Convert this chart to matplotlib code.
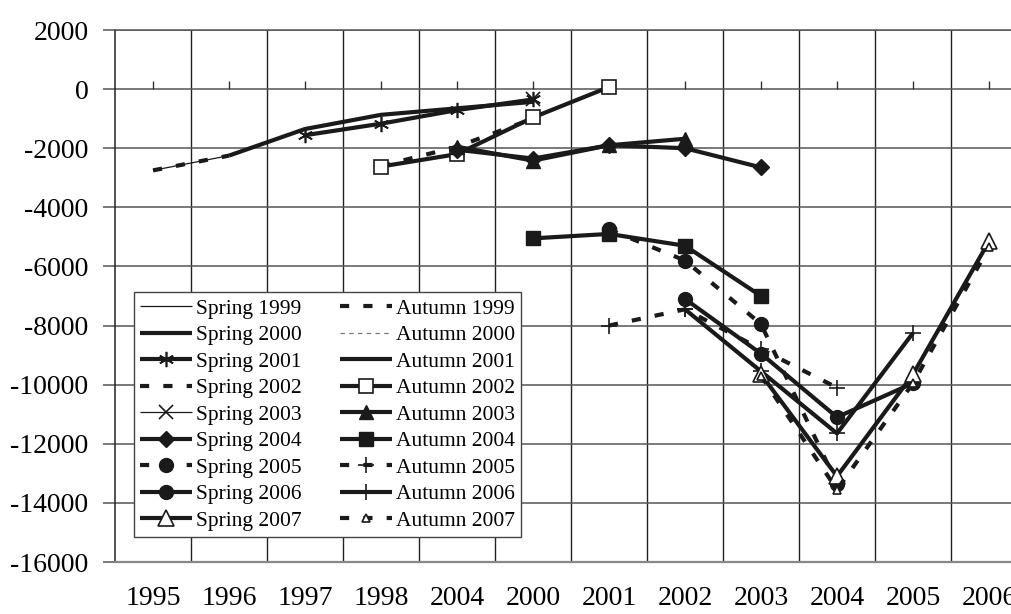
import numpy as np
import matplotlib
matplotlib.use("Agg")
import matplotlib.pyplot as plt

plt.rcParams['font.family'] = ['Liberation Serif', 'DejaVu Serif']

nan = np.nan

# category axis (the fifth label really reads 2004 in the original)
years = ['1995', '1996', '1997', '1998', '2004', '2000',
         '2001', '2002', '2003', '2004', '2005', '2006']

# forecast vintages, values
spring_1999 = [-2750, -2250, nan, nan, nan, nan, nan, nan, nan, nan, nan, nan]
autumn_1999 = [-2750, -2250, nan, nan, nan, nan, nan, nan, nan, nan, nan, nan]
spring_2000 = [nan, -2250, -1350, -870, -650, -430, nan, nan, nan, nan, nan, nan]
autumn_2000 = [nan, nan, nan, nan, nan, nan, nan, nan, nan, nan, nan, nan]
spring_2001 = [nan, nan, -1560, -1170, -710, -350, nan, nan, nan, nan, nan, nan]
autumn_2001 = [nan, nan, nan, nan, nan, nan, nan, nan, nan, nan, nan, nan]
spring_2002 = [nan, nan, nan, -2600, -1950, -1000, nan, nan, nan, nan, nan, nan]
autumn_2002 = [nan, nan, nan, -2620, -2200, -960, 70, nan, nan, nan, nan, nan]
spring_2003 = [nan, nan, nan, nan, nan, -350, nan, nan, nan, nan, nan, nan]
autumn_2003 = [nan, nan, nan, nan, -1950, -2420, -1900, -1680, nan, nan, nan, nan]
spring_2004 = [nan, nan, nan, nan, -2050, -2350, -1900, -2000, -2650, nan, nan, nan]
autumn_2004 = [nan, nan, nan, nan, nan, -5050, -4900, -5300, -7000, nan, nan, nan]
spring_2005 = [nan, nan, nan, nan, nan, nan, -4750, -5800, -7950, -13350, nan, nan]
autumn_2005 = [nan, nan, nan, nan, nan, nan, -8000, -7450, -8800, -10100, nan, nan]
spring_2006 = [nan, nan, nan, nan, nan, nan, nan, -7100, -8950, -11100, -9950, nan]
autumn_2006 = [nan, nan, nan, nan, nan, nan, nan, -7450, -9550, -11650, -8250, nan]
spring_2007 = [nan, nan, nan, nan, nan, nan, nan, nan, -9650, -13100, -9650, -5150]
autumn_2007 = [nan, nan, nan, nan, nan, nan, nan, nan, -9700, -13550, -9950, -5350]

ink = '#1a1a1a'
thick = 3.0
thin = 0.9
dash = (0, (2.2, 3.4))
asterisk = (6, 2, 0)

# label, values, colour, linewidth, linestyle, marker, markersize, markerfacecolor
series = [
    ('Spring 1999', spring_1999, ink, thin, '-', None, 0, ink),
    ('Autumn 1999', autumn_1999, ink, thick, dash, None, 0, ink),
    ('Spring 2000', spring_2000, ink, thick, '-', None, 0, ink),
    ('Autumn 2000', autumn_2000, '#777777', thin, (0, (3.5, 3.5)), None, 0, ink),
    ('Spring 2001', spring_2001, ink, thick, '-', asterisk, 11, ink),
    ('Autumn 2001', autumn_2001, ink, thick, '-', None, 0, ink),
    ('Spring 2002', spring_2002, ink, thick, dash, None, 0, ink),
    ('Autumn 2002', autumn_2002, ink, thick, '-', 's', 10, 'white'),
    ('Spring 2003', spring_2003, ink, thin, '-', 'x', 10, ink),
    ('Autumn 2003', autumn_2003, ink, thick, '-', '^', 10, ink),
    ('Spring 2004', spring_2004, ink, thick, '-', 'D', 8, ink),
    ('Autumn 2004', autumn_2004, ink, thick, '-', 's', 10, ink),
    ('Spring 2005', spring_2005, ink, thick, dash, 'o', 10, ink),
    ('Autumn 2005', autumn_2005, ink, thick, dash, '+', 12, ink),
    ('Spring 2006', spring_2006, ink, thick, '-', 'o', 10, ink),
    ('Autumn 2006', autumn_2006, ink, thick, '-', '+', 12, ink),
    ('Spring 2007', spring_2007, ink, thick, '-', '^', 11, 'white'),
    ('Autumn 2007', autumn_2007, ink, thick, dash, '^', 6, 'white'),
]

fig = plt.figure(figsize=(10.11, 6.14), dpi=100)
# plot area runs past the right edge, as in the source image
ax = fig.add_axes([115 / 1011, (614 - 562) / 614, 912 / 1011, 532 / 614])

x = np.arange(len(years))
handles = []
for label, vals, col, lw, ls, mk, ms, mfc in series:
    mew = 1.2 if mk in ('+', 'x', asterisk) or mfc == 'white' else 1.0
    h, = ax.plot(x, vals, color=col, lw=lw, ls=ls, marker=mk, ms=ms,
                 mfc=mfc, mec=ink, mew=mew, label=label,
                 dash_capstyle='butt', solid_capstyle='butt', zorder=3)
    handles.append(h)

ax.set_xlim(-0.5, len(years) - 0.5)
ax.set_ylim(-16000, 2000)
ax.set_yticks(np.arange(-16000, 2001, 2000))
ax.set_yticklabels([str(v) for v in np.arange(-16000, 2001, 2000)])
ax.yaxis.grid(True, color='#555555', lw=1.1)

ax.set_xticks(x)
ax.set_xticklabels(years)
ax.set_xticks(x[:-1] + 0.5, minor=True)
ax.xaxis.grid(True, which='minor', color='#222222', lw=1.0)
ax.set_axisbelow(True)

ax.tick_params(axis='y', length=9, width=1.1, color='#555555', pad=10,
               labelsize=20)
ax.tick_params(axis='x', which='major', length=0, pad=17, labelsize=20)
ax.tick_params(axis='x', which='minor', length=0)

# small upward ticks on the zero line, one per category
ax.plot(x, np.zeros(len(x)), ls='none', marker=2, ms=6, mew=1.0,
        color='#333333', zorder=2)

ax.spines['left'].set_color('#222222')
ax.spines['left'].set_linewidth(1.1)
ax.spines['bottom'].set_color('#888888')
ax.spines['bottom'].set_linewidth(1.6)
ax.spines['top'].set_color('#555555')
ax.spines['top'].set_linewidth(1.1)
ax.spines['right'].set_visible(False)

# legend: column-major order -> spring on the left, autumn on the right
order = list(range(0, 18, 2)) + list(range(1, 18, 2))
leg = ax.legend([handles[i] for i in order],
                [handles[i].get_label() for i in order],
                ncol=2, loc='upper left',
                bbox_to_anchor=((134 - 115) / 912, (562 - 292) / 532),
                borderaxespad=0, fontsize=15.5, frameon=True, fancybox=False,
                framealpha=1, edgecolor='#444444', handlelength=2.4,
                handletextpad=0.2, columnspacing=1.75, labelspacing=0.3,
                borderpad=0.3)
leg.get_frame().set_linewidth(1.0)
leg.set_zorder(5)

fig.savefig('out.png', dpi=100)
